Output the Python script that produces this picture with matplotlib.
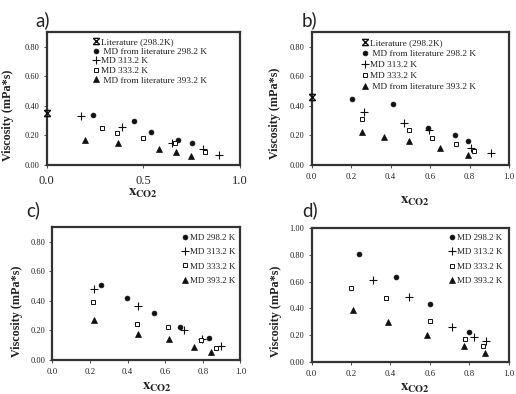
import matplotlib
matplotlib.use("Agg")
import matplotlib.pyplot as plt
from matplotlib.path import Path

plt.rcParams['font.family'] = ['Liberation Serif', 'DejaVu Serif']
plt.rcParams['mathtext.fontset'] = 'stix'

# ---- data ----
# panel a
a_lit_x = [0.0]
a_lit_y = [0.35]
a_298_x = [0.24, 0.45, 0.54, 0.68, 0.75]
a_298_y = [0.34, 0.30, 0.22, 0.17, 0.15]
a_313_x = [0.18, 0.39, 0.65, 0.81, 0.89]
a_313_y = [0.33, 0.26, 0.15, 0.105, 0.065]
a_333_x = [0.285, 0.365, 0.50, 0.665, 0.82]
a_333_y = [0.25, 0.215, 0.185, 0.15, 0.085]
a_393_x = [0.20, 0.37, 0.58, 0.67, 0.745]
a_393_y = [0.167, 0.15, 0.105, 0.085, 0.062]

# panel b
b_lit_x = [0.0]
b_lit_y = [0.46]
b_298_x = [0.205, 0.41, 0.59, 0.725, 0.79]
b_298_y = [0.447, 0.41, 0.253, 0.202, 0.164]
b_313_x = [0.263, 0.467, 0.595, 0.81, 0.908]
b_313_y = [0.355, 0.287, 0.238, 0.118, 0.08]
b_333_x = [0.253, 0.491, 0.608, 0.732, 0.823]
b_333_y = [0.311, 0.235, 0.185, 0.142, 0.095]
b_393_x = [0.255, 0.368, 0.493, 0.65, 0.79]
b_393_y = [0.22, 0.191, 0.16, 0.115, 0.069]

# panel c
c_298_x = [0.26, 0.397, 0.54, 0.68, 0.835]
c_298_y = [0.507, 0.417, 0.318, 0.221, 0.146]
c_313_x = [0.22, 0.454, 0.702, 0.796, 0.898]
c_313_y = [0.48, 0.367, 0.203, 0.14, 0.097]
c_333_x = [0.218, 0.45, 0.615, 0.792, 0.872]
c_333_y = [0.39, 0.241, 0.221, 0.135, 0.083]
c_393_x = [0.22, 0.454, 0.618, 0.755, 0.844]
c_393_y = [0.272, 0.178, 0.142, 0.09, 0.056]

# panel d
d_298_x = [0.24, 0.428, 0.602, 0.796]
d_298_y = [0.808, 0.633, 0.433, 0.225]
d_313_x = [0.313, 0.494, 0.711, 0.821, 0.884]
d_313_y = [0.61, 0.485, 0.26, 0.185, 0.155]
d_333_x = [0.202, 0.376, 0.602, 0.777, 0.867]
d_333_y = [0.55, 0.475, 0.308, 0.173, 0.115]
d_393_x = [0.209, 0.386, 0.585, 0.771, 0.877]
d_393_y = [0.385, 0.295, 0.2, 0.12, 0.068]

labels_top = ['Literature (298.2K)', ' MD from literature 298.2 K', 'MD 313.2 K',
              'MD 333.2 K', ' MD from literature 393.2 K']
labels_bot = ['MD 298.2 K', 'MD 313.2 K', 'MD 333.2 K', 'MD 393.2 K']

# hourglass-like cross used for the literature point
lit_marker = Path([(-1, -1), (1, 1), (-1, 1), (1, -1), (-1, 1), (1, 1), (-1, -1), (1, -1)],
                  [Path.MOVETO, Path.LINETO] * 4)

INK = '#111111'
styles = {
    'lit': dict(marker=lit_marker, ms=4.5, mfc='none', mec=INK, mew=1.0),
    '298': dict(marker='o', ms=3.5, mfc=INK, mec=INK, mew=0.5),
    '313': dict(marker='+', ms=5.2, mfc=INK, mec=INK, mew=0.8),
    '333': dict(marker='s', ms=3.3, mfc='white', mec=INK, mew=0.7),
    '393': dict(marker='^', ms=4.4, mfc=INK, mec=INK, mew=0.5),
}

fig = plt.figure(figsize=(5.16, 3.94), dpi=100)
ax_a = fig.add_axes([0.0905, 0.5812, 0.3746, 0.3383])
ax_b = fig.add_axes([0.604, 0.5812, 0.3824, 0.3383])
ax_c = fig.add_axes([0.1016, 0.0863, 0.3643, 0.3383])
ax_d = fig.add_axes([0.6037, 0.082, 0.3827, 0.3386])


def draw(ax, series, labels, ymax, yticks, xticks, xsize, xpad):
    for (key, xs, ys), lab in zip(series, labels):
        ax.plot(xs, ys, ls='none', label=lab, clip_on=False, zorder=3, **styles[key])
    ax.set_xlim(0, 1.0)
    ax.set_ylim(0, ymax)
    ax.set_yticks(yticks)
    ax.set_yticklabels([f'{v:.2f}' for v in yticks])
    ax.set_xticks(xticks)
    ax.set_xticklabels([f'{v:.1f}' for v in xticks])
    for s in ax.spines.values():
        s.set_linewidth(1.6)
        s.set_color('#333333')
    ax.tick_params(axis='y', direction='out', length=2, width=0.6, labelsize=6,
                   pad=3, colors='#333333', labelcolor='#222222')
    ax.tick_params(axis='x', direction='out', length=2, width=0.6, labelsize=xsize,
                   pad=xpad, colors='#333333', labelcolor='#222222')
    ax.set_ylabel('Viscosity (mPa*s)', fontsize=8.7, fontweight='bold', color='#222222')
    ax.set_xlabel(r'$\mathbf{x}_{\mathbf{CO2}}$', fontsize=10.5, color='#222222')
    ax.xaxis.label.set_va('center')
    ax.yaxis.label.set_va('center')


draw(ax_a, [('lit', a_lit_x, a_lit_y), ('298', a_298_x, a_298_y), ('313', a_313_x, a_313_y),
            ('333', a_333_x, a_333_y), ('393', a_393_x, a_393_y)], labels_top,
     0.9, [0, 0.2, 0.4, 0.6, 0.8], [0, 0.5, 1.0], 9, 5)
draw(ax_b, [('lit', b_lit_x, b_lit_y), ('298', b_298_x, b_298_y), ('313', b_313_x, b_313_y),
            ('333', b_333_x, b_333_y), ('393', b_393_x, b_393_y)], labels_top,
     0.9, [0, 0.2, 0.4, 0.6, 0.8], [0, 0.2, 0.4, 0.6, 0.8, 1.0], 6.3, 4)
draw(ax_c, [('298', c_298_x, c_298_y), ('313', c_313_x, c_313_y),
            ('333', c_333_x, c_333_y), ('393', c_393_x, c_393_y)], labels_bot,
     0.9, [0, 0.2, 0.4, 0.6, 0.8], [0, 0.2, 0.4, 0.6, 0.8, 1.0], 6.3, 4)
draw(ax_d, [('298', d_298_x, d_298_y), ('313', d_313_x, d_313_y),
            ('333', d_333_x, d_333_y), ('393', d_393_x, d_393_y)], labels_bot,
     1.0, [0, 0.2, 0.4, 0.6, 0.8, 1.0], [0, 0.2, 0.4, 0.6, 0.8, 1.0], 6.3, 4)

# label positions
ax_a.xaxis.set_label_coords(0.498, -0.212)
ax_b.xaxis.set_label_coords(0.522, -0.275)
ax_c.xaxis.set_label_coords(0.556, -0.208)
ax_d.xaxis.set_label_coords(0.523, -0.20)
ax_a.yaxis.set_label_coords(-0.199, 0.375)
ax_b.yaxis.set_label_coords(-0.188, 0.39)
ax_c.yaxis.set_label_coords(-0.19, 0.362)
ax_d.yaxis.set_label_coords(-0.178, 0.376)

leg_kw = dict(frameon=False, borderpad=0, borderaxespad=0, handlelength=0.8,
              handletextpad=0.15, labelcolor='#222222')
ax_a.legend(loc='upper left', bbox_to_anchor=(0.234, 0.955), fontsize=6.7,
            labelspacing=0.12, **leg_kw)
ax_b.legend(loc='upper left', bbox_to_anchor=(0.252, 0.95), fontsize=6.7,
            labelspacing=0.28, **leg_kw)
ax_c.legend(loc='upper right', bbox_to_anchor=(0.975, 0.95), fontsize=6.5,
            labelspacing=0.68, **leg_kw)
ax_d.legend(loc='upper right', bbox_to_anchor=(0.965, 0.96), fontsize=6.5,
            labelspacing=0.68, **leg_kw)

# panel letters
for txt, x, y in [('a)', 35, 20), ('b)', 302, 20), ('c)', 26, 210), ('d)', 302, 210)]:
    fig.text(x / 516, 1 - y / 394, txt, fontsize=13.5, family=['Lato', 'DejaVu Sans'],
             ha='left', va='center', color='#222222')

fig.savefig('out.png', dpi=100)
